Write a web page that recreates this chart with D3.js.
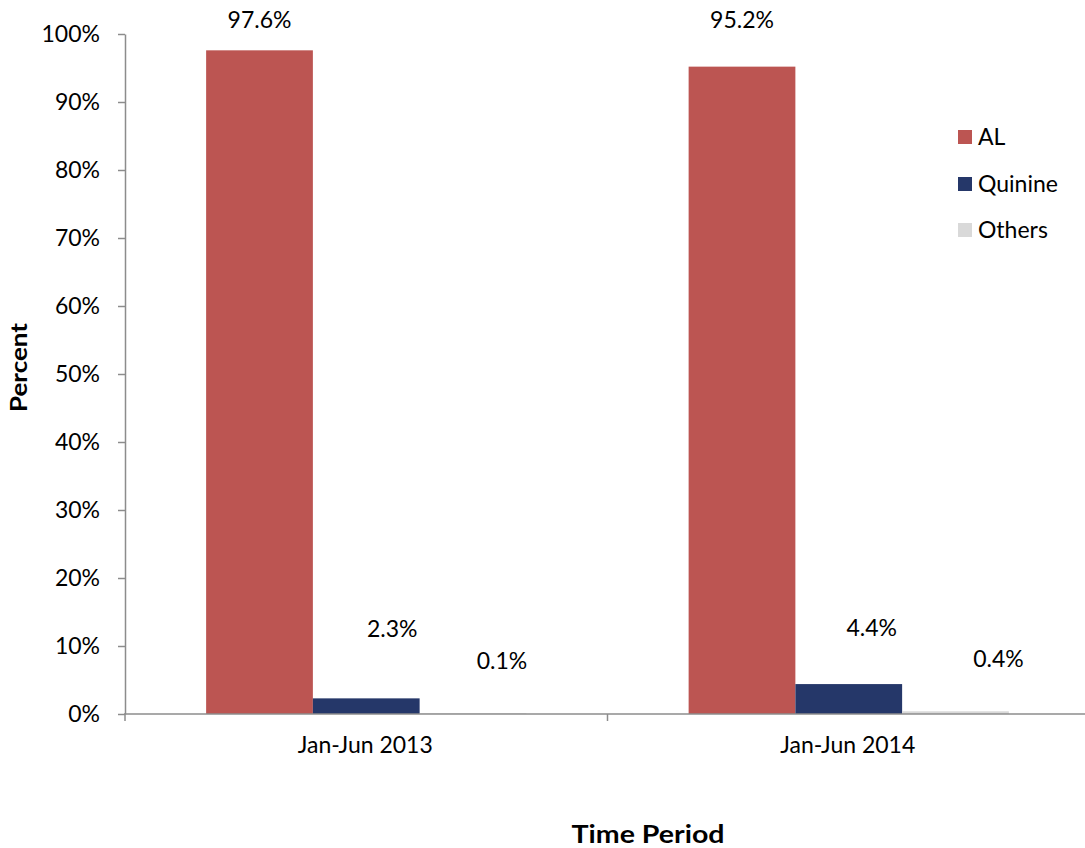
<!DOCTYPE html>
<html><head><meta charset="utf-8">
<script src="https://cdn.jsdelivr.net/npm/d3@7"></script>
<style>body{margin:0;background:#fff}svg{display:block}text{font-family:Lato,"Open Sans",sans-serif;fill:#000}</style>
</head><body><svg id="c" width="1085" height="848"></svg>
<script>
const categories = ["Jan-Jun 2013", "Jan-Jun 2014"];
const seriesNames = ["AL", "Quinine", "Others"];
const AL = [97.6, 95.2];
const Quinine = [2.3, 4.4];
const Others = [0.1, 0.4];
const yTicks = [0, 10, 20, 30, 40, 50, 60, 70, 80, 90, 100];
const colors = ["#BC5552", "#253769", "#D9D9D9"];
const seriesValues = [AL, Quinine, Others];

const svg = d3.select("#c");
const W = 1085, H = 848;
const mLeft = 125, mRight = 1090, mTop = 34, mBottom = 714;
const FS = 23;

const x0 = d3.scaleBand().domain(categories).range([mLeft, mRight]).paddingInner(0).paddingOuter(0);
const x1 = d3.scaleBand().domain(seriesNames).range([0, x0.bandwidth()]).paddingInner(0).paddingOuter(0.76);
const y = d3.scaleLinear().domain([0, 100]).range([mBottom, mTop]);

// bars
seriesNames.forEach((s, si) => {
  svg.append("g").selectAll("rect").data(categories).join("rect")
    .attr("x", c => x0(c) + x1(s))
    .attr("y", (c, i) => y(seriesValues[si][i]))
    .attr("width", x1.bandwidth())
    .attr("height", (c, i) => y(0) - y(seriesValues[si][i]))
    .attr("fill", colors[si]);
});

// y axis
const ya = svg.append("g").attr("transform", `translate(${mLeft},0)`)
  .call(d3.axisLeft(y).tickValues(yTicks).tickFormat(d => d + "%").tickSize(7).tickSizeOuter(0));
ya.select(".domain").attr("stroke", "#8c8c8c").attr("stroke-width", 1.5);
ya.selectAll(".tick line").attr("stroke", "#8c8c8c").attr("stroke-width", 1.5);
ya.selectAll(".tick text").attr("x", -25).attr("font-size", FS).attr("font-family", "Lato");

// x axis
const xa = svg.append("g").attr("transform", `translate(0,${mBottom})`);
xa.append("line").attr("x1", mLeft - 1).attr("x2", W).attr("stroke", "#8c8c8c").attr("stroke-width", 1.5);
const seps = [mLeft, x0(categories[1])];
xa.selectAll("line.sep").data(seps).join("line").attr("class", "sep")
  .attr("x1", d => d).attr("x2", d => d).attr("y1", 0).attr("y2", 7)
  .attr("stroke", "#8c8c8c").attr("stroke-width", 1.5);
xa.selectAll("text").data(categories).join("text")
  .attr("x", d => x0(d) + x0.bandwidth() / 2 - 1)
  .attr("y", 39).attr("text-anchor", "middle").attr("font-size", FS).text(d => d);

// value labels
const labelY = { AL: [19.5, 19.5], Quinine: [628.5, 627.5], Others: [661, 658.5] };
const labelDx = { AL: [0, 0], Quinine: [26, 23], Others: [29, 43] };
seriesNames.forEach((s, si) => {
  svg.append("g").selectAll("text").data(categories).join("text")
    .attr("x", (c, i) => x0(c) + x1(s) + x1.bandwidth() / 2 + labelDx[s][i])
    .attr("y", (c, i) => labelY[s][i]).attr("dy", "0.35em")
    .attr("text-anchor", "middle").attr("font-size", FS)
    .text((c, i) => seriesValues[si][i].toFixed(1) + "%");
});

// legend
const lg = svg.append("g");
const legY = [137, 184, 230];
seriesNames.forEach((s, si) => {
  lg.append("rect").attr("x", 958).attr("y", legY[si] - 7).attr("width", 14).attr("height", 14).attr("fill", colors[si]);
  lg.append("text").attr("x", 978).attr("y", legY[si]).attr("dy", "0.35em").attr("font-size", FS).text(s);
});

// axis titles
svg.append("text").attr("transform", "translate(19,367.5) rotate(-90)").attr("text-anchor", "middle")
  .attr("dy", "0.35em").attr("font-size", 22).attr("font-weight", "bold")
  .attr("textLength", 89).attr("lengthAdjust", "spacingAndGlyphs").text("Percent");
svg.append("text").attr("x", 648).attr("y", 843).attr("text-anchor", "middle")
  .attr("font-size", 24).attr("font-weight", "bold")
  .attr("textLength", 153).attr("lengthAdjust", "spacingAndGlyphs").text("Time Period");
</script></body></html>
